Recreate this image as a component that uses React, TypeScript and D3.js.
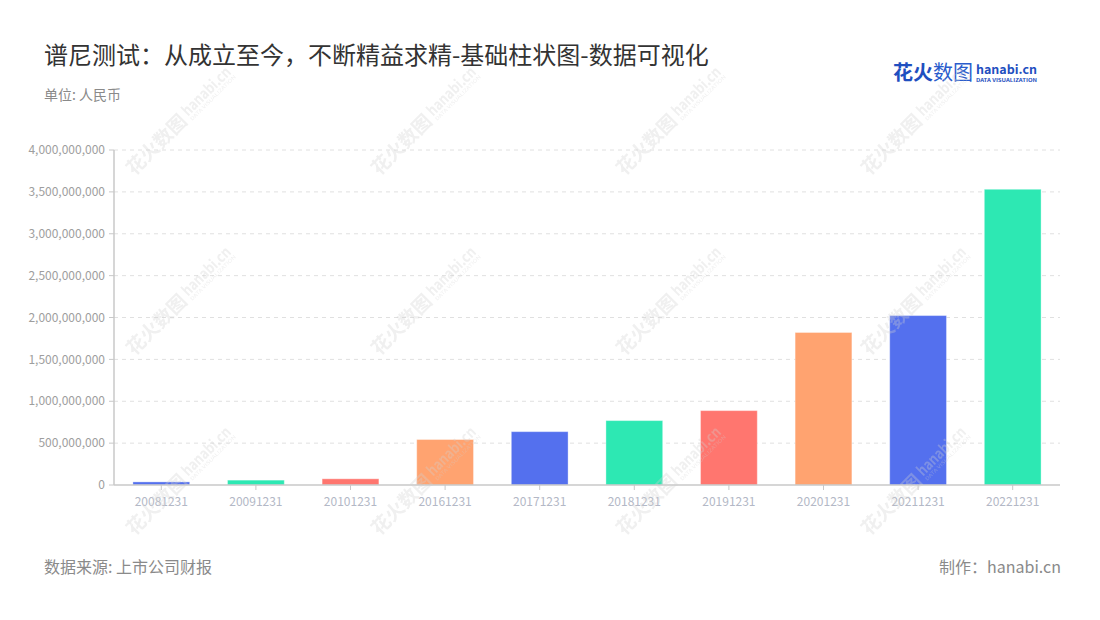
import React from 'react';
import * as d3 from 'd3';

const categories = ['20081231','20091231','20101231','20161231','20171231','20181231','20191231','20201231','20211231','20221231'];
const values = [37e6, 58e6, 74e6, 543e6, 637e6, 769e6, 888e6, 1821e6, 2023e6, 3531e6];
const palette = ['#5470EE', '#2DE8B3', '#FF766F', '#FFA370'];
const yTicks = [0, 5e8, 1e9, 1.5e9, 2e9, 2.5e9, 3e9, 3.5e9, 4e9];

const W = 1100, H = 620;
const M = { left: 114, right: 1060, top: 150, bottom: 485 };
const FONT = '"Noto Sans CJK SC", "Noto Sans", sans-serif';

export default function App() {
  const x = d3.scaleBand<string>().domain(categories).range([M.left, M.right]).paddingInner(0.4).paddingOuter(0.2);
  const y = d3.scaleLinear().domain([0, 4e9]).range([M.bottom, M.top]);
  const fmt = d3.format(',');

  const wmX = [181, 426, 671, 916];
  const wmY = [121, 301, 481];

  return (
    <svg width={W} height={H} style={{ position: 'absolute', left: 0, top: 0, background: '#fff' }} fontFamily={FONT}>
      <rect width={W} height={H} fill="#fff" />
      <text x={44} y={64} fontSize={24} fill="#333">谱尼测试：从成立至今，不断精益求精-基础柱状图-数据可视化</text>
      <text x={44} y={100} fontSize={14} fill="#8a8a8a">单位: 人民币</text>

      {/* logo */}
      <g>
        <text x={893} y={80} fontSize={20} fontWeight={700} fill="#1f4fc0" textLength={40} lengthAdjust="spacingAndGlyphs">花火</text>
        <text x={933} y={80} fontSize={20} fontWeight={400} fill="#2a5ccc" textLength={40} lengthAdjust="spacingAndGlyphs">数图</text>
        <text x={976} y={74} fontSize={12} fontWeight={700} fill="#1f4fc0" textLength={61} lengthAdjust="spacingAndGlyphs">hanabi.cn</text>
        <text x={976} y={82} fontSize={4.5} fontWeight={700} fill="#1f4fc0" textLength={61} lengthAdjust="spacingAndGlyphs">DATA VISUALIZATION</text>
      </g>

      {/* grid + y axis */}
      {yTicks.map(t => (
        <g key={t}>
          {t > 0 && <line x1={M.left} x2={M.right} y1={y(t)} y2={y(t)} stroke="#e0e0e0" strokeDasharray="4,4" />}
          <line x1={M.left - 5} x2={M.left} y1={y(t)} y2={y(t)} stroke="#c8c8c8" />
          <text x={M.left - 9} y={y(t)} dy="0.35em" textAnchor="end" fontSize={12} fill="#9e9e9e">{fmt(t)}</text>
        </g>
      ))}
      <line x1={M.left} x2={M.left} y1={M.top} y2={M.bottom} stroke="#c8c8c8" strokeWidth={1.5} />

      {/* bars */}
      {categories.map((c, i) => (
        <rect key={c} x={x(c)} y={y(values[i])} width={x.bandwidth()} height={M.bottom - y(values[i])}
          fill={palette[i % 4]} stroke="#ffffff" strokeOpacity={0.35} strokeWidth={1} />
      ))}

      {/* x axis */}
      <line x1={M.left} x2={M.right} y1={M.bottom} y2={M.bottom} stroke="#c8c8c8" strokeWidth={1.5} />
      {categories.map(c => (
        <g key={c}>
          <line x1={x(c)! + x.bandwidth() / 2} x2={x(c)! + x.bandwidth() / 2} y1={M.bottom} y2={M.bottom + 5} stroke="#c8c8c8" />
          <text x={x(c)! + x.bandwidth() / 2} y={M.bottom + 21} textAnchor="middle" fontSize={12} fill="#b3b8c6">{c}</text>
        </g>
      ))}

      {/* footer */}
      <text x={44} y={573} fontSize={16} fill="#8a8a8a">数据来源: 上市公司财报</text>
      <text x={1061} y={573} fontSize={16} fill="#8a8a8a" textAnchor="end">制作：hanabi.cn</text>

      {/* watermarks */}
      <g opacity={0.33} pointerEvents="none">
        {wmY.map(cy => wmX.map(cx => (
          <g key={`${cx}-${cy}`} transform={`translate(${cx},${cy}) rotate(-45)`}>
            <text x={-72} y={6} fontSize={19} fontWeight={700} fill="#d0d0d0">花火数图</text>
            <text x={8} y={2} fontSize={15} fontWeight={700} fill="#d0d0d0" textLength={62} lengthAdjust="spacingAndGlyphs">hanabi.cn</text>
            <text x={8} y={8} fontSize={5} fill="#d0d0d0" textLength={62} lengthAdjust="spacingAndGlyphs">DATA VISUALIZATION</text>
          </g>
        )))}
      </g>
    </svg>
  );
}
